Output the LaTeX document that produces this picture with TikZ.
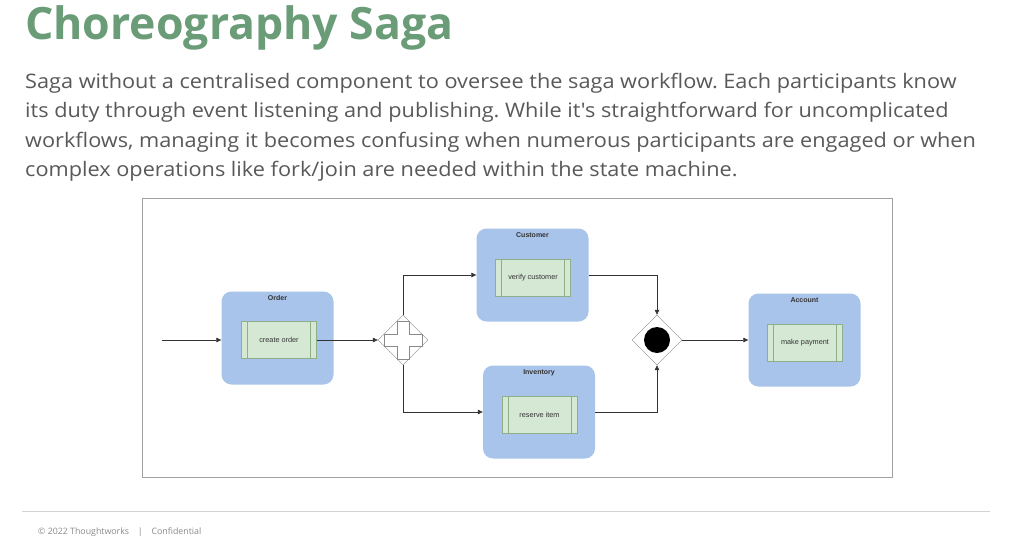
\documentclass[tikz,border=0pt]{standalone}
\usepackage{fontspec}
\setmainfont{Open Sans}
\newfontfamily\bodyfont[FakeStretch=1.085]{Open Sans}
\newfontfamily\diafont{Liberation Sans}
\frenchspacing
\usepackage{xcolor}
\definecolor{cTitle}{HTML}{6A9C78}
\definecolor{cText}{HTML}{595959}
\definecolor{cPool}{HTML}{A9C4EB}
\definecolor{cTask}{HTML}{D5E8D4}
\definecolor{cTaskLine}{HTML}{8FAF8A}
\definecolor{cGray}{HTML}{8A8A8A}
\definecolor{cInk}{HTML}{333333}
\usepackage{tikz}
\usetikzlibrary{positioning,arrows.meta,shapes.geometric,calc}
\tikzset{
  node-pool/.style={fill=cPool,rounded corners=10pt,inner sep=0pt,
    minimum width=112pt,minimum height=93pt},
  node-pool-label/.style={anchor=north,inner sep=0pt,text=cInk,
    font=\diafont\bfseries\fontsize{7}{8}\selectfont},
  node-task/.style={draw=cTaskLine,fill=cTask,inner sep=0pt,
    minimum width=75pt,minimum height=37pt,text=cInk,
    font=\diafont\fontsize{7.3}{8}\selectfont,
    path picture={
      \draw[cTaskLine] ([xshift=6pt]path picture bounding box.north west)
        -- ([xshift=6pt]path picture bounding box.south west);
      \draw[cTaskLine] ([xshift=-6pt]path picture bounding box.north east)
        -- ([xshift=-6pt]path picture bounding box.south east);
    }},
  node-gate/.style={draw=cGray,fill=white,diamond,inner sep=0pt,
    minimum width=50pt,minimum height=50pt},
  node-text/.style={anchor=base west,inner sep=0pt,text=cText,
    font=\bodyfont\fontsize{20}{24}\selectfont},
  arrow/.style={-{Triangle[length=5pt,width=4.5pt]},draw=cInk,semithick},
  frame/.style={draw=cGray!80,semithick},
}

\begin{document}
\begin{tikzpicture}[x=1pt,y=-1pt]
  \useasboundingbox[fill=white] (0,0) rectangle (1024,543);
  % header
  \node[anchor=base west,inner sep=0pt,text=cTitle,
    font=\bfseries\fontsize{44.6}{50}\selectfont] (title) at (25,40)
    {Choreography Saga};
  \node[node-text] (line1) at (25,88)
    {Saga without a centralised component to oversee the saga workflow. Each participants know};
  \node[node-text] (line2) at (25,117.5)
    {its duty through event listening and publishing. While it's straightforward for uncomplicated};
  \node[node-text] (line3) at (25,147)
    {workflows, managing it becomes confusing when numerous participants are engaged or when};
  \node[node-text] (line4) at (25,176.5)
    {complex operations like fork/join are needed within the state machine.};

  % diagram frame
  \draw[frame] (142,198) rectangle (892,477);

  % participants
  \node[node-pool] (order) at (277.5,338) {};
  \node[node-pool-label] at ([yshift=-4pt]order.north) {Order};
  \node[node-task] (create) at (279,340) {create order};

  \node[node-pool] (customer) at (532.5,275) {};
  \node[node-pool-label] at ([yshift=-4pt]customer.north) {Customer};
  \node[node-task] (verify) at (533,278) {verify customer};

  \node[node-pool] (inventory) at (539,412) {};
  \node[node-pool-label] at ([yshift=-4pt]inventory.north) {Inventory};
  \node[node-task] (reserve) at (539.5,415) {reserve item};

  \node[node-pool] (account) at (804.5,340) {};
  \node[node-pool-label] at ([yshift=-4pt]account.north) {Account};
  \node[node-task] (payment) at (805,342.5) {make payment};

  % gateways
  \node[node-gate] (fork) at (403,340) {};
  \draw[cGray] ($(fork)+(-6,-19)$) -- ++(12,0) -- ++(0,13) -- ++(13,0)
    -- ++(0,12) -- ++(-13,0) -- ++(0,13) -- ++(-12,0) -- ++(0,-13)
    -- ++(-13,0) -- ++(0,-12) -- ++(13,0) -- cycle;
  \node[node-gate] (join) at (657,340) {};
  \fill[black] (join) circle (13);

  % flows
  \coordinate (start) at (162,340);
  \draw[arrow] (start) -- (start -| order.west);
  \draw[arrow] (create) -- (fork);
  \draw[arrow] (fork.north) |- (customer);
  \draw[arrow] (fork.south) |- (inventory);
  \draw[arrow] (customer) -| (join.north);
  \draw[arrow] (inventory) -| (join.south);
  \draw[arrow] (join) -- (account);

  % footer
  \draw[gray!35] (22,511) -- (990,511);
  \node[anchor=base west,inner sep=0pt,text=cGray,
    font=\fontsize{8.8}{10}\selectfont] (footer) at (38,534)
    {\textcopyright{} 2022 Thoughtworks\quad|\quad Confidential};
\end{tikzpicture}
\end{document}
